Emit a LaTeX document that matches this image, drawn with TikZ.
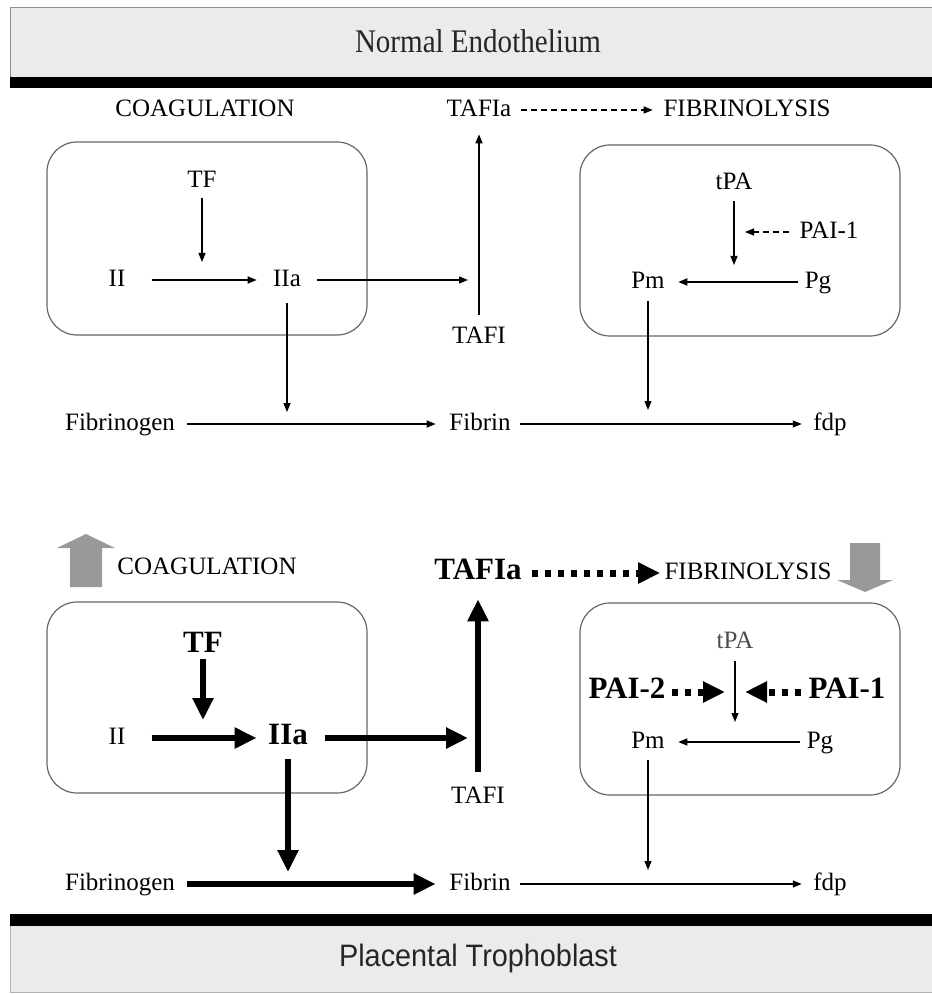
\documentclass[tikz,border=0pt]{standalone}
\usepackage{fontspec}
\setmainfont{Liberation Serif}
\newfontfamily\headfont[FakeStretch=0.88]{Liberation Serif}
\newfontfamily\sansfont[FakeStretch=0.93]{Liberation Sans}
\usetikzlibrary{arrows.meta}

\begin{document}
\begin{tikzpicture}[x=0.5pt,y=-0.5pt,
  every node/.style={inner sep=2pt,text height=0.75em,text depth=0.1em,font=\fontsize{12.5}{15}\selectfont},
  big/.style={font=\fontsize{15.5}{18}\selectfont\bfseries},
  panel/.style={draw=black!60,line width=0.6pt,rounded corners=15pt},
  litearr/.style={line width=0.6pt,-{Triangle[length=4.5pt,width=3.5pt]}},
  dasharr/.style={litearr,dash pattern=on 3pt off 2pt},
  boldarr/.style={line width=3pt,-{Triangle[length=11pt,width=10pt]}},
  dotarr/.style={line width=3.5pt,dash pattern=on 3pt off 3.5pt,-{Triangle[length=11pt,width=10pt]}},
  fat/.style={fill=black!40}]
  \useasboundingbox (0,0) rectangle (931,994);

  % membranes
  \fill[black!8] (10,7) rectangle (940,77);
  \draw[black!45] (10,77) |- (940,7);
  \fill[black] (10,77) rectangle (940,88);
  \node[font=\headfont\fontsize{16.5}{19}\selectfont,text=black!85] (endo) at (478,46) {Normal Endothelium};
  \fill[black] (10,914) rectangle (940,926);
  \fill[black!8] (10,926) rectangle (940,992);
  \draw[black!30] (10,926) |- (940,992);
  \node[font=\sansfont\fontsize{15.5}{18}\selectfont,text=black!85] (troph) at (478,960) {Placental Trophoblast};

  % normal endothelium
  \node (coagT) at (205,110) {COAGULATION};
  \node (tafiaT) at (479,110) {TAFIa};
  \node (fibrolT) at (747,110) {FIBRINOLYSIS};
  \draw[panel] (47,142) rectangle (367,335);
  \node (tfT) at (202,181) {TF};
  \node (iiT) at (117,280) {II};
  \node (iiaT) at (287,280) {IIa};
  \node (tafiT) at (479,337) {TAFI};
  \draw[panel] (580,145) rectangle (900,336);
  \node (tpaT) at (734,183) {tPA};
  \node (pai1T) at (829,232) {PAI-1};
  \node (pmT) at (648,282) {Pm};
  \node (pgT) at (818,282) {Pg};
  \node (fgnT) at (120,424) {Fibrinogen};
  \node (fbnT) at (480,424) {Fibrin};
  \node (fdpT) at (830,424) {fdp};
  \coordinate (tfendT) at (202,262);
  \coordinate (tafiendT) at (468,280);
  \coordinate (iiaendT) at (287,412);
  \coordinate (tpaendT) at (734,265);
  \coordinate (pai1endT) at (745,232);
  \coordinate (pmendT) at (648,410);
  \draw[litearr,shorten <=2pt](tfT)--(tfendT);
  \draw[litearr,shorten <=11pt,shorten >=6pt](iiT)--(iiaT);
  \draw[litearr,shorten <=6pt](iiaT)--(tafiendT);
  \draw[litearr,shorten <=4.7pt,shorten >=5.7pt](tafiT)--(tafiaT);
  \draw[dasharr,shorten <=2.8pt,shorten >=3.2pt](tafiaT)--(fibrolT);
  \draw[litearr,shorten <=5pt](iiaT)--(iiaendT);
  \draw[litearr,shorten <=4pt,shorten >=4.7pt](fgnT)--(fbnT);
  \draw[litearr,shorten <=2.7pt,shorten >=3.6pt](fbnT)--(fdpT);
  \draw[litearr,shorten <=2.7pt](tpaT)--(tpaendT);
  \draw[dasharr,shorten <=3pt](pai1T)--(pai1endT);
  \draw[litearr,line width=0.9pt,shorten <=1pt,shorten >=4.6pt](pgT)--(pmT);
  \draw[litearr,shorten <=3.2pt](pmT)--(pmendT);

  % placental trophoblast
  \fill[fat] (70,587) -- (70,548) -- (57,548) -- (86,534) -- (115,548) -- (102,548) -- (102,587) -- cycle;
  \node (coagB) at (207,568) {COAGULATION};
  \node[big] (tafiaB) at (478,573) {TAFIa};
  \node (fibrolB) at (748,573) {FIBRINOLYSIS};
  \fill[fat] (850,543) -- (880,543) -- (880,580) -- (893,580) -- (865,592) -- (837,580) -- (850,580) -- cycle;
  \draw[panel] (47,602) rectangle (367,793);
  \node[big] (tfB) at (203,646) {TF};
  \node (iiB) at (117,738) {II};
  \node[big] (iiaB) at (288,738) {IIa};
  \node (tafiB) at (478,797) {TAFI};
  \draw[panel] (580,603) rectangle (900,795);
  \node[text=black!70] (tpaB) at (735,642) {tPA};
  \node[big] (pai2B) at (627,692) {PAI-2};
  \node[big] (pai1B) at (847,692) {PAI-1};
  \node (pmB) at (648,742) {Pm};
  \node (pgB) at (820,742) {Pg};
  \node (fgnB) at (120,884) {Fibrinogen};
  \node (fbnB) at (480,884) {Fibrin};
  \node (fdpB) at (830,884) {fdp};
  \coordinate (tfendB) at (203,720);
  \coordinate (tafiendB) at (468,738);
  \coordinate (iiaendB) at (288,872);
  \coordinate (tpaendB) at (735,722);
  \coordinate (pai2endB) at (725,692);
  \coordinate (pai1endB) at (745,692);
  \coordinate (pmendB) at (648,870);
  \draw[boldarr](tfB)--(tfendB);
  \draw[boldarr,shorten <=11pt,shorten >=3.6pt](iiB)--(iiaB);
  \draw[boldarr,shorten <=6.6pt](iiaB)--(tafiendB);
  \draw[boldarr,shorten <=6.2pt,shorten >=6.7pt](tafiB)--(tafiaB);
  \draw[dotarr,shorten <=2.9pt](tafiaB)--(fibrolB);
  \draw[boldarr,shorten <=4pt](iiaB)--(iiaendB);
  \draw[boldarr,shorten <=4pt,shorten >=4.7pt](fgnB)--(fbnB);
  \draw[litearr,shorten <=2.7pt,shorten >=3.6pt](fbnB)--(fdpB);
  \draw[litearr,shorten <=3.2pt](tpaB)--(tpaendB);
  \draw[dotarr,shorten <=1.2pt](pai2B)--(pai2endB);
  \draw[dotarr,shorten <=1.8pt](pai1B)--(pai1endB);
  \draw[litearr,shorten <=1pt,shorten >=4.6pt](pgB)--(pmB);
  \draw[litearr,shorten <=2.7pt](pmB)--(pmendB);
\end{tikzpicture}
\end{document}
